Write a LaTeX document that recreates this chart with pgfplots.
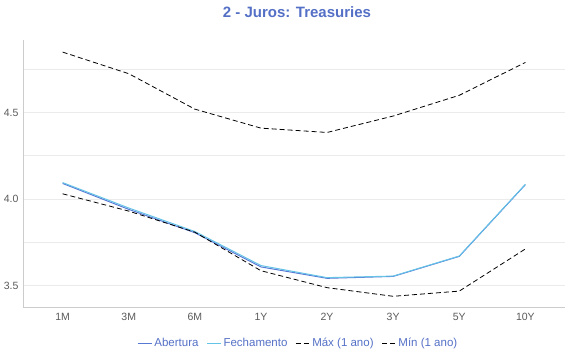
\documentclass[border=0pt]{standalone}
\usepackage{pgfplots}
\pgfplotsset{compat=1.18}
\usepackage{fontspec}
\setmainfont{Liberation Sans}
\definecolor{titleblue}{RGB}{84,112,198}
\definecolor{abert}{RGB}{88,120,214}
\definecolor{fech}{RGB}{100,195,230}
\definecolor{gridc}{RGB}{235,235,235}
\definecolor{axc}{RGB}{204,204,204}
\definecolor{tickc}{RGB}{90,90,90}
\begin{document}
\begin{tikzpicture}
\begin{axis}[
  scale only axis, width=542pt, height=267pt,
  clip=false,
  xmin=-0.6, xmax=7.6, ymin=3.375, ymax=4.92,
  xtick={0,...,7},
  xticklabels={1M,3M,6M,1Y,2Y,3Y,5Y,10Y},
  ytick={3.5,4.0,4.5},
  minor ytick={3.75,4.25,4.75},
  yticklabel style={/pgf/number format/fixed,/pgf/number format/fixed zerofill,/pgf/number format/precision=1, xshift=-1pt},
  /pgf/number format/assume math mode=true,
  ymajorgrids, yminorgrids,
  major grid style={gridc, line width=0.8pt},
  minor grid style={gridc, line width=0.8pt},
  axis x line*=bottom, axis y line*=left,
  axis line style={axc, line width=0.8pt, -},
  major tick length=0pt, minor tick length=0pt,
  tick style={draw=none},
  ticklabel style={font=\fontsize{10.5}{12}\selectfont, text=tickc},
  xticklabel style={yshift=-3pt},
  legend style={at={(0.508,-0.135)}, anchor=center, draw=none, fill=none,
    legend columns=4, font=\fontsize{11.5}{13}\selectfont, text=titleblue,
    /tikz/every even column/.append style={column sep=6pt}},
  legend image code/.code={\draw[#1] (0pt,0pt) -- (11pt,0pt); \path (0pt,0pt) -- (14pt,0pt);},
]
\path (rel axis cs:-0.0424,-0.1985) rectangle (rel axis cs:1.0092,1.1498);
\node[font=\fontsize{15}{18}\selectfont\bfseries, text=titleblue] at (rel axis cs:0.5055,1.1049) {2 - Juros: Treasuries};
\addplot[abert, line width=1pt] coordinates {
(0,4.09) (1,3.940) (2,3.805) (3,3.607) (4,3.541) (5,3.552) (6,3.668) (7,4.083)};
\addlegendentry{Abertura}
\addplot[fech, line width=1pt] coordinates {
(0,4.095) (1,3.948) (2,3.812) (3,3.615) (4,3.545) (5,3.554) (6,3.670) (7,4.085)};
\addlegendentry{Fechamento}
\addplot[black, line width=0.8pt, dash pattern=on 5pt off 3pt] coordinates {
(0,4.85) (1,4.725) (2,4.52) (3,4.41) (4,4.385) (5,4.48) (6,4.60) (7,4.79)};
\addlegendentry{Máx (1 ano)}
\addplot[black, line width=0.8pt, dash pattern=on 5pt off 3pt] coordinates {
(0,4.03) (1,3.93) (2,3.808) (3,3.585) (4,3.487) (5,3.437) (6,3.467) (7,3.711)};
\addlegendentry{Mín (1 ano)}
\end{axis}
\end{tikzpicture}
\end{document}
